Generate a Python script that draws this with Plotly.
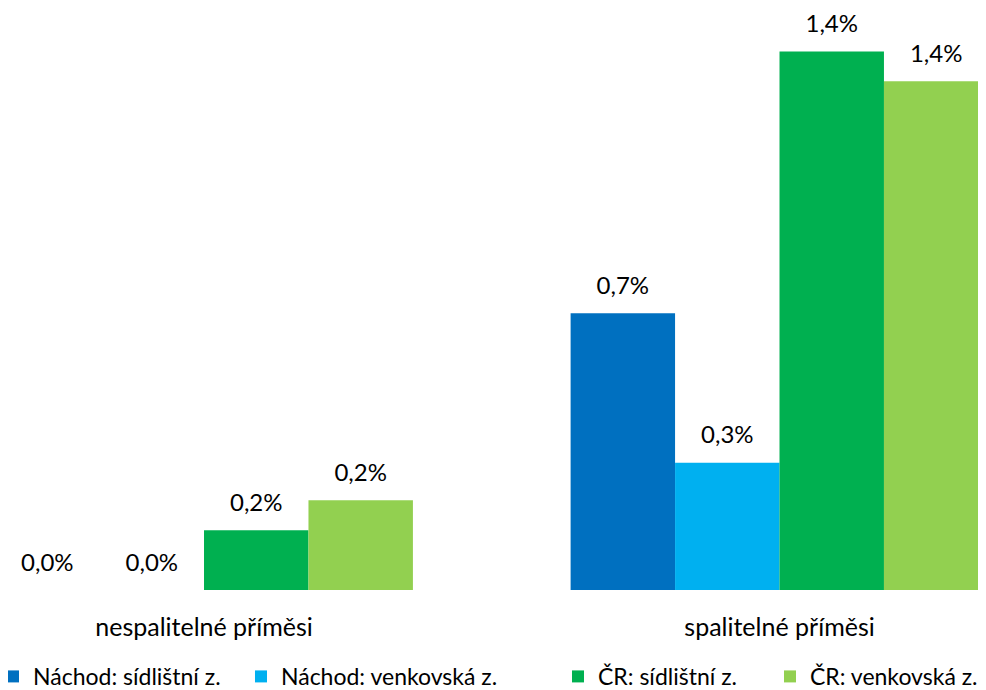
import plotly.graph_objects as go

categories = ["nespalitelné příměsi", "spalitelné příměsi"]
series_names = ["Náchod: sídlištní z.", "Náchod: venkovská z.", "ČR: sídlištní z.", "ČR: venkovská z."]
nachod_sidlistni = [0.0, 0.74]
nachod_venkovska = [0.0, 0.34]
cr_sidlistni = [0.16, 1.44]
cr_venkovska = [0.24, 1.36]
colors = ["#0070C0", "#00B0F0", "#00B050", "#92D050"]

series_values = [nachod_sidlistni, nachod_venkovska, cr_sidlistni, cr_venkovska]
legend_x = [0.0, 0.2363, 0.5578, 0.7728]
legend_indent = [-15, 0, 0, 0]

FONT = "Lato"
GAP = 0.274
fig = go.Figure()
for i, (name, vals, col) in enumerate(zip(series_names, series_values, colors)):
    fig.add_trace(go.Bar(
        x=categories, y=vals, name=name, marker_color=col,
        marker_line_width=0, offsetgroup=str(i),
        legend="legend" if i == 0 else f"legend{i+1}",
    ))
for i, vals in enumerate(series_values):
    labels = [f"{v:.1f}%".replace(".", ",") for v in vals]
    fig.add_trace(go.Scatter(
        x=categories, y=vals, mode="markers+text", text=labels,
        textposition="top center", offsetgroup=str(i),
        marker=dict(size=20, opacity=0), cliponaxis=False,
        textfont=dict(family=FONT, size=24, color="#000000"),
        showlegend=False, hoverinfo="skip",
    ))

layout_legends = {}
for i, (lx, ind) in enumerate(zip(legend_x, legend_indent)):
    key = "legend" if i == 0 else f"legend{i+1}"
    layout_legends[key] = dict(
        x=lx, y=-0.1855, xanchor="left", yanchor="bottom",
        orientation="h", itemwidth=30, indentation=ind,
        font=dict(family=FONT, size=23, color="#000000"),
        bgcolor="rgba(0,0,0,0)",
    )

fig.update_layout(
    width=986, height=690,
    margin=dict(l=0, r=0, t=0, b=108),
    paper_bgcolor="white", plot_bgcolor="white",
    barmode="group", bargap=GAP, bargroupgap=0,
    scattermode="group", scattergap=GAP,
    showlegend=True,
    font=dict(family=FONT, size=23, color="#000000"),
    xaxis=dict(range=[-0.3406, 1.3727], showgrid=False, showline=False,
               zeroline=False, ticks="", ticklabelstandoff=20,
               tickfont=dict(family=FONT, size=25, color="#000000")),
    yaxis=dict(range=[0, 1.556], visible=False, showgrid=False, zeroline=False),
    **layout_legends,
)

fig.write_html("out.html")
